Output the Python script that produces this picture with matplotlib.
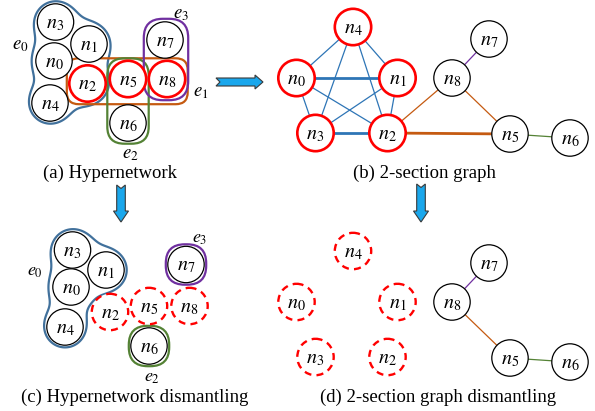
import numpy as np
import matplotlib
matplotlib.use("Agg")
import matplotlib.pyplot as plt
from matplotlib.patches import Circle, FancyBboxPatch, Polygon

plt.rcParams['mathtext.fontset'] = 'stix'

# ---------------- data ----------------
node_names = ['n0', 'n1', 'n2', 'n3', 'n4', 'n5', 'n6', 'n7', 'n8']
node_labels = [r'$n_0$', r'$n_1$', r'$n_2$', r'$n_3$', r'$n_4$', r'$n_5$', r'$n_6$', r'$n_7$', r'$n_8$']

# panel (a) hypernetwork layout
pos_a_x = [54, 89, 87.5, 55.5, 50, 128, 128, 165, 167]
pos_a_y = [61, 44, 83.5, 22, 103, 79, 123, 40, 79]
# panel (c) hypernetwork dismantling layout
pos_c_x = [71, 106, 110, 72.5, 65, 149, 149, 186, 189.5]
pos_c_y = [287, 270, 312, 250, 327, 306, 346, 264.5, 306]
# panel (b) 2-section graph layout (panel d is the same, shifted down)
pos_b_x = [296.5, 397.5, 387.5, 315.5, 353, 510, 570, 489, 452]
pos_b_y = [78, 78, 133, 133, 27, 134, 138, 39, 78]
panel_d_shift = 224

hyperedges = {
    'e0': ['n0', 'n1', 'n2', 'n3', 'n4'],
    'e1': ['n2', 'n5', 'n8'],
    'e2': ['n5', 'n6'],
    'e3': ['n7', 'n8'],
}
he_colors = {'e0': '#41719C', 'e1': '#C55A11', 'e2': '#548235', 'e3': '#7030A0'}
removed_hyper = ['n2', 'n5', 'n8']           # removed in hypernetwork dismantling
removed_graph = ['n0', 'n1', 'n2', 'n3', 'n4']  # removed in 2-section dismantling

# 2-section edges: (u, v, hyperedge, weight)
edges_b = [
    ('n0', 'n1', 'e0', 2), ('n0', 'n2', 'e0', 1), ('n0', 'n3', 'e0', 1), ('n0', 'n4', 'e0', 1),
    ('n1', 'n2', 'e0', 1), ('n1', 'n3', 'e0', 1), ('n1', 'n4', 'e0', 1),
    ('n2', 'n3', 'e0', 2), ('n2', 'n4', 'e0', 1), ('n3', 'n4', 'e0', 1),
    ('n2', 'n5', 'e1', 2), ('n2', 'n8', 'e1', 1), ('n8', 'n5', 'e1', 1),
    ('n8', 'n7', 'e3', 1), ('n5', 'n6', 'e2', 1),
]
edge_colors = {'e0': '#2E75B6', 'e1': '#C55A11', 'e2': '#548235', 'e3': '#7030A0'}

captions = ['(a) Hypernetwork', '(b) 2-section graph',
            '(c) Hypernetwork dismantling', '(d) 2-section graph dismantling']

R = 18.2
RED = '#FF0000'

fig = plt.figure(figsize=(5.95, 4.11), dpi=100)
ax = fig.add_axes([0, 0, 1, 1])
ax.set_xlim(0, 595)
ax.set_ylim(411, 0)
ax.axis('off')

idx = {n: i for i, n in enumerate(node_names)}


def draw_node(x, y, name, style='normal'):
    if style == 'red':
        c = Circle((x, y), R, facecolor='white', edgecolor=RED, lw=1.9, zorder=5)
    elif style == 'dashed':
        c = Circle((x, y), R, facecolor='white', edgecolor=RED, lw=1.7,
                   linestyle=(0, (3.0, 2.2)), zorder=5)
    else:
        c = Circle((x, y), R, facecolor='white', edgecolor='black', lw=0.9, zorder=5)
    ax.add_patch(c)
    ax.text(x, y + 1, node_labels[idx[name]], ha='center', va='center',
            fontsize=14.5, zorder=6)


def blob(xs, ys, color, pad=2.0, k=10.0):
    gx = np.linspace(0, 240, 721)
    gy = np.linspace(0, 411, 1234)
    X, Y = np.meshgrid(gx, gy)
    acc = np.zeros_like(X)
    for x, y in zip(xs, ys):
        d = np.hypot(X - x, Y - y) - (R + pad)
        acc += np.exp(-d / k)
    F = -k * np.log(acc)
    ax.contour(X, Y, F, levels=[0], colors=[color], linewidths=1.6, zorder=3)


def rbox(xs, ys, color, pad, rounding):
    x0 = min(xs) - R - pad
    x1 = max(xs) + R + pad
    y0 = min(ys) - R - pad
    y1 = max(ys) + R + pad
    p = FancyBboxPatch((x0 + rounding, y0 + rounding), x1 - x0 - 2 * rounding,
                       y1 - y0 - 2 * rounding,
                       boxstyle=f'round,pad={rounding},rounding_size={rounding}',
                       facecolor='none', edgecolor=color, lw=1.6, zorder=3)
    ax.add_patch(p)


# ---------------- panel (a) ----------------
ea = hyperedges['e0']
blob([pos_a_x[idx[n]] for n in ea], [pos_a_y[idx[n]] for n in ea], he_colors['e0'])
for e, pad, rnd in [('e1', 2.5, 12), ('e2', 2.5, 17), ('e3', 3.0, 19)]:
    m = hyperedges[e]
    rbox([pos_a_x[idx[n]] for n in m], [pos_a_y[idx[n]] for n in m], he_colors[e], pad, rnd)
for i, n in enumerate(node_names):
    draw_node(pos_a_x[i], pos_a_y[i], n, 'red' if n in removed_hyper else 'normal')
for lab, (x, y) in {'e0': (20, 44), 'e1': (201, 91), 'e2': (130, 153), 'e3': (181, 13)}.items():
    ax.text(x, y, f'$e_{lab[1]}$', ha='center', va='center', fontsize=13.5)

# ---------------- panel (c) ----------------
ec = [n for n in hyperedges['e0'] if n not in removed_hyper]
blob([pos_c_x[idx[n]] for n in ec], [pos_c_y[idx[n]] for n in ec], he_colors['e0'])
for e in ['e2', 'e3']:
    m = [n for n in hyperedges[e] if n not in removed_hyper]
    rbox([pos_c_x[idx[n]] for n in m], [pos_c_y[idx[n]] for n in m], he_colors[e], 2.0, 19)
for i, n in enumerate(node_names):
    draw_node(pos_c_x[i], pos_c_y[i], n, 'dashed' if n in removed_hyper else 'normal')
for lab, (x, y) in {'e0': (35, 271), 'e2': (152, 377), 'e3': (200, 238)}.items():
    ax.text(x, y, f'$e_{lab[1]}$', ha='center', va='center', fontsize=13)

# ---------------- panel (b) ----------------
for u, v, e, w in edges_b:
    ax.plot([pos_b_x[idx[u]], pos_b_x[idx[v]]], [pos_b_y[idx[u]], pos_b_y[idx[v]]],
            color=edge_colors[e], lw=0.9 if w == 1 else 2.0, zorder=2,
            solid_capstyle='butt')
for i, n in enumerate(node_names):
    draw_node(pos_b_x[i], pos_b_y[i], n, 'red' if n in removed_graph else 'normal')

# ---------------- panel (d) ----------------
for u, v, e, w in edges_b:
    if u in removed_graph or v in removed_graph:
        continue
    ax.plot([pos_b_x[idx[u]], pos_b_x[idx[v]]],
            [pos_b_y[idx[u]] + panel_d_shift, pos_b_y[idx[v]] + panel_d_shift],
            color=edge_colors[e], lw=0.9 if w == 1 else 2.0, zorder=2)
for i, n in enumerate(node_names):
    draw_node(pos_b_x[i], pos_b_y[i] + panel_d_shift, n,
              'dashed' if n in removed_graph else 'normal')

# ---------------- arrows ----------------
ARROW_FC = '#1AA7EC'
ARROW_EC = '#3A3A3A'
right = [(216, 78), (255, 78), (255, 75), (263, 82), (255, 89), (255, 86), (216, 86), (220, 82)]
ax.add_patch(Polygon(right, closed=True, facecolor=ARROW_FC, edgecolor=ARROW_EC, lw=0.8, zorder=4))
for cx, top in [(121, 185), (421, 184)]:
    down = [(cx - 4.3, top), (cx, top + 3.5), (cx + 4.3, top), (cx + 4.3, 211), (cx + 7.5, 211),
            (cx, 222), (cx - 7.5, 211), (cx - 4.3, 211)]
    ax.add_patch(Polygon(down, closed=True, facecolor=ARROW_FC, edgecolor=ARROW_EC, lw=0.8, zorder=4))

# ---------------- captions ----------------
for txt, (x, y) in zip(captions, [(110, 173), (424, 173), (135, 397), (438, 397)]):
    ax.text(x, y, txt, ha='center', va='center', fontsize=13.5, family='Liberation Serif')

fig.savefig('out.png', dpi=100)
